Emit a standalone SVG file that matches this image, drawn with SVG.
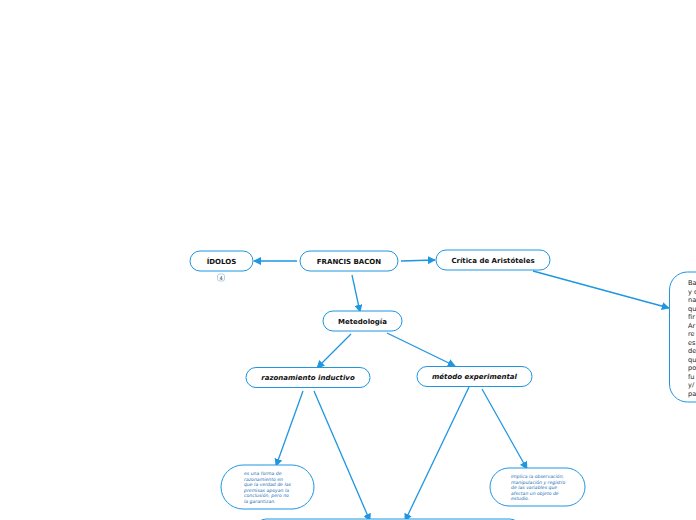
<svg xmlns="http://www.w3.org/2000/svg" width="696" height="520" viewBox="0 0 696 520">
<defs>
<marker id="ah" viewBox="0 0 10 10" refX="9" refY="5" markerWidth="8" markerHeight="8" markerUnits="userSpaceOnUse" orient="auto">
<path d="M0,0 L10,5 L0,10 z" fill="#1e96e0"/>
</marker>
</defs>
<style>
.n{fill:#fff;stroke:#1e96e0;stroke-width:1}
.t{font-family:"DejaVu Sans",Verdana,sans-serif;font-size:7px;font-weight:bold;fill:#111;text-anchor:middle}
.ti{font-family:"DejaVu Sans",Verdana,sans-serif;font-size:7px;font-weight:bold;font-style:italic;fill:#111;text-anchor:middle}
.s{font-family:"DejaVu Sans",Verdana,sans-serif;font-size:4.6px;font-style:italic;fill:#1f6fb8}
.r{font-family:"DejaVu Sans",Verdana,sans-serif;font-size:6.6px;fill:#222}
.c{fill:none;stroke:#1e96e0;stroke-width:1.3;marker-end:url(#ah)}
</style>
<rect width="696" height="520" fill="#fff"/>
<g id="connectors">
<line class="c" x1="297" y1="261" x2="254" y2="261"/>
<line class="c" x1="401" y1="261" x2="435" y2="260"/>
<line class="c" x1="533" y1="271" x2="669" y2="308"/>
<line class="c" x1="352" y1="275" x2="360" y2="312"/>
<line class="c" x1="351" y1="334" x2="317" y2="368"/>
<line class="c" x1="387" y1="333" x2="455" y2="366"/>
<line class="c" x1="303" y1="391" x2="276" y2="466"/>
<line class="c" x1="314" y1="391" x2="370" y2="521"/>
<line class="c" x1="469" y1="387" x2="405" y2="521"/>
<line class="c" x1="482" y1="389" x2="527" y2="469"/>
</g>
<g id="francis">
<rect class="n" x="300" y="251" width="98" height="20" rx="10"/>
<text class="t" x="349" y="263.5">FRANCIS BACON</text>
</g>
<g id="idolos">
<rect class="n" x="190" y="251" width="63" height="20" rx="10"/>
<text class="t" x="221.5" y="263.5">ÍDOLOS</text>
<rect x="217.5" y="274" width="7" height="7" rx="2" fill="#fff" stroke="#7ab6e0" stroke-width="0.6"/>
<text x="221" y="279.6" font-family="DejaVu Sans,sans-serif" font-size="5px" fill="#333" text-anchor="middle">4</text>
</g>
<g id="critica">
<rect class="n" x="436" y="250" width="114" height="20" rx="10"/>
<text class="t" x="493" y="262.5">Crítica de Aristóteles</text>
</g>
<g id="bacon-critica">
<rect class="n" x="669.5" y="272" width="70" height="130" rx="18"/>
<text class="r" x="688" y="285">Ba</text>
<text class="r" x="688" y="293.5">y c</text>
<text class="r" x="688" y="302">na</text>
<text class="r" x="688" y="310.5">qu</text>
<text class="r" x="688" y="319">fir</text>
<text class="r" x="688" y="327.5">Ar</text>
<text class="r" x="688" y="336">re</text>
<text class="r" x="688" y="344.5">es</text>
<text class="r" x="688" y="353">de</text>
<text class="r" x="688" y="361.5">qu</text>
<text class="r" x="688" y="370">po</text>
<text class="r" x="688" y="378.5">fu</text>
<text class="r" x="688" y="387">y/</text>
<text class="r" x="688" y="395.5">pa</text>
</g>
<g id="metodologia">
<rect class="n" x="323" y="311" width="79" height="20" rx="10"/>
<text class="t" x="362.5" y="323.5">Metedología</text>
</g>
<g id="razonamiento">
<rect class="n" x="246" y="367.5" width="124" height="20" rx="10"/>
<text class="ti" x="308" y="380">razonamiento inductivo</text>
</g>
<g id="metodo">
<rect class="n" x="417" y="366.5" width="115" height="20" rx="10"/>
<text class="ti" x="474.5" y="379">método experimental</text>
</g>
<g id="inductivo-def">
<rect class="n" x="221" y="465" width="93" height="44" rx="22"/>
<text class="s" x="244" y="475">es una forma de</text>
<text class="s" x="244" y="480.5">razonamiento en</text>
<text class="s" x="244" y="486">que la verdad de las</text>
<text class="s" x="244" y="491.5">premisas apoyan la</text>
<text class="s" x="244" y="497">conclusión, pero no</text>
<text class="s" x="244" y="502.5">la garantizan.</text>
</g>
<g id="experimental-def">
<rect class="n" x="490" y="468" width="95" height="38" rx="19"/>
<text class="s" x="511" y="478">Implica la observación,</text>
<text class="s" x="511" y="483.5">manipulación y registro</text>
<text class="s" x="511" y="489">de las variables que</text>
<text class="s" x="511" y="494.5">afectan un objeto  de</text>
<text class="s" x="511" y="500">estudio.</text>
</g>
<g id="bottom">
<rect class="n" x="256" y="519" width="264" height="30" rx="10"/>
</g>
</svg>
